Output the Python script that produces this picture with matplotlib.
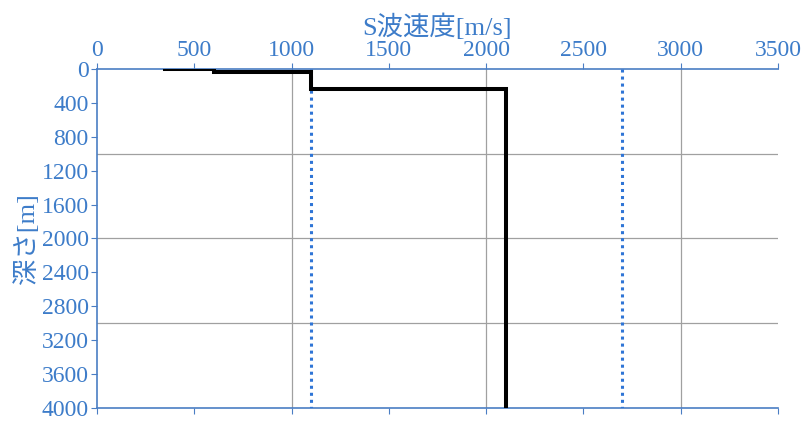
import matplotlib
matplotlib.use("Agg")
import matplotlib.pyplot as plt
import numpy as np

plt.rcParams['font.family'] = ['Liberation Serif', 'Noto Sans CJK JP']

# S波速度構造 (各層の上端深さ, Vs)
layer_top = [0, 5, 30, 240]
layer_vs = [350, 600, 1100, 2100]
depth_max = 4000

# 参照線
ref_vs = [1100, 2700]

x_ticks = np.arange(0, 3501, 500)
y_ticks = np.arange(0, 4001, 400)
grid_x = [1000, 2000, 3000]
grid_y = [1000, 2000, 3000]

text_col = '#3D7CC9'
axis_col = '#4A7EC4'

# ステップ線の座標
xs, ys = [layer_vs[0]], [layer_top[0]]
for i in range(1, len(layer_vs)):
    xs += [layer_vs[i - 1], layer_vs[i]]
    ys += [layer_top[i], layer_top[i]]
xs.append(layer_vs[-1])
ys.append(depth_max)

fig = plt.figure(figsize=(8.1, 4.26), dpi=100)
ax = fig.add_axes([97 / 810, 1 - 408 / 426, 681 / 810, 339 / 426])

for g in grid_x:
    ax.axvline(g, color='#A0A0A0', lw=0.9, zorder=1)
for g in grid_y:
    ax.axhline(g, color='#A0A0A0', lw=0.9, zorder=1)

for v in ref_vs:
    ax.plot([v, v], [0, depth_max], color='#2F75D6', lw=2.2,
            linestyle=(0, (1, 1.3)), zorder=3)

ax.plot(xs, ys, color='black', lw=2.9, solid_joinstyle='miter', zorder=4)

ax.set_xlim(0, 3500)
ax.set_ylim(depth_max, 0)
ax.set_xticks(x_ticks)
ax.set_yticks(y_ticks)
ax.xaxis.tick_top()
ax.xaxis.set_label_position('top')
ax.tick_params(axis='x', which='both', top=True, bottom=True, labeltop=True,
               labelbottom=False, direction='out', length=4, color=axis_col,
               labelcolor=text_col, labelsize=17, pad=2)
ax.tick_params(axis='y', direction='out', length=4, color=axis_col,
               labelcolor=text_col, labelsize=17, pad=2)

for s in ['top', 'left', 'bottom']:
    ax.spines[s].set_color(axis_col)
    ax.spines[s].set_linewidth(1.2)
ax.spines['right'].set_visible(False)

ax.set_xlabel('S波速度[m/s]', color=text_col, fontsize=19, labelpad=3)
ax.set_ylabel('深さ[m]', color=text_col, fontsize=19, labelpad=2)

fig.savefig('out.png', dpi=100)
